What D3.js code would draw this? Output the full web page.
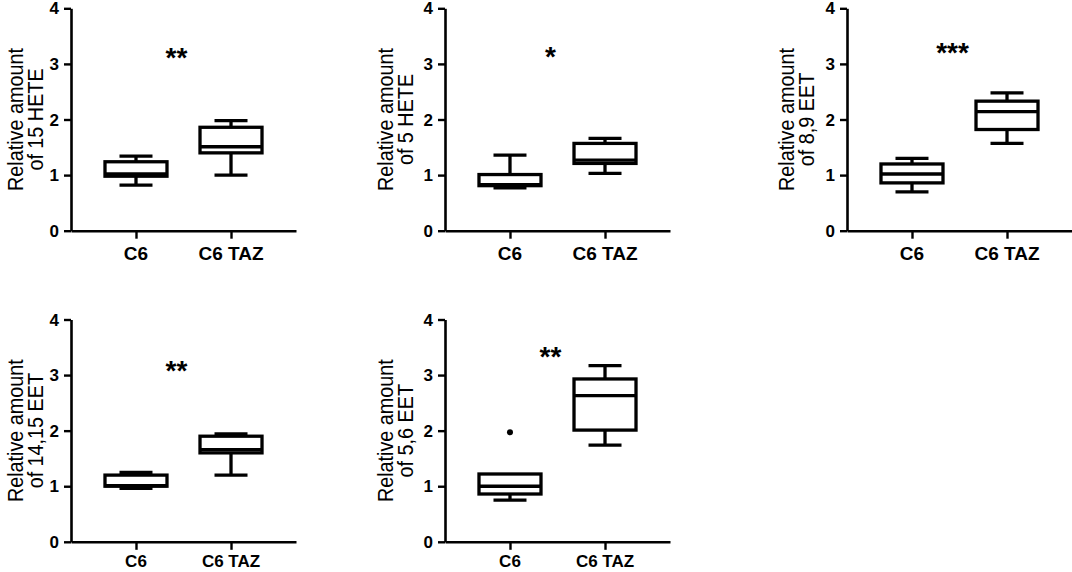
<!DOCTYPE html>
<html>
<head>
<meta charset="utf-8">
<script src="https://cdn.jsdelivr.net/npm/d3@7"></script>
<style>
  html, body { margin: 0; padding: 0; background: #fff; }
  svg { display: block; }
  text { font-family: "Liberation Sans", Arial, sans-serif; fill: #000; }
</style>
</head>
<body>
<svg id="chart" width="1072" height="572"></svg>
<script>
// ---- data ----
const analytes = ["15 HETE", "5 HETE", "8,9 EET", "14,15 EET", "5,6 EET"];
const groups = ["C6", "C6 TAZ"];
const yTicks = [0, 1, 2, 3, 4];
const whiskerLow  = [[0.82, 1.00], [0.77, 1.03], [0.70, 1.57], [0.96, 1.20], [0.75, 1.74]];
const quartile1   = [[0.98, 1.40], [0.81, 1.21], [0.86, 1.82], [1.00, 1.60], [0.86, 2.01]];
const medians     = [[1.02, 1.51], [0.83, 1.27], [1.02, 2.14], [1.01, 1.66], [1.00, 2.63]];
const quartile3   = [[1.24, 1.86], [1.01, 1.57], [1.20, 2.33], [1.20, 1.90], [1.22, 2.93]];
const whiskerHigh = [[1.34, 1.98], [1.36, 1.66], [1.30, 2.48], [1.25, 1.94], [1.22, 3.17]];
const outliers    = [[[], []], [[], []], [[], []], [[], []], [[1.97], []]];
const sigLabels = ["**", "*", "***", "**", "**"];
const sigValue  = [3.24, 3.25, 3.32, 3.21, 3.45];

// ---- layout ----
const colX = [71, 445, 847];
const rowTop = [8.3, 319.5];
const rowBottom = [230.7, 541.8];
const axisLen = 225;
const labelOffset = [-48, -52, -53];
const catFont = [19, 17];
const catBase = [29, 25];
const boxW = 62, capW = 33;

const svg = d3.select("#chart");

analytes.forEach((name, i) => {
  const row = i < 3 ? 0 : 1;
  const col = i % 3;
  const g = svg.append("g").attr("transform", `translate(${colX[col]},0)`);

  const y = d3.scaleLinear().domain([0, 4]).range([rowBottom[row], rowTop[row]]);
  const x = d3.scalePoint().domain(groups).range([0, axisLen]).padding(0.684);

  // y axis
  const ya = g.append("g").call(d3.axisLeft(y).tickValues(yTicks).tickFormat(d3.format("d"))
      .tickSize(7).tickSizeOuter(0).tickPadding(4));
  ya.select(".domain").attr("stroke", "#000").attr("stroke-width", 2.6);
  ya.selectAll(".tick line").attr("stroke", "#000").attr("stroke-width", 2.4);
  ya.selectAll(".tick text").remove();
  g.selectAll("text.ytl").data(yTicks).join("text").attr("class", "ytl")
    .attr("x", -12).attr("y", d => y(d)).attr("dy", "0.36em")
    .attr("text-anchor", "end")
    .style("font-size", "17px").style("font-weight", "bold")
    .text(d => d3.format("d")(d));

  // x axis
  const xa = g.append("g").attr("transform", `translate(0,${rowBottom[row]})`)
    .call(d3.axisBottom(x).tickSize(8).tickSizeOuter(0).tickPadding(5));
  xa.select(".domain").attr("stroke", "#000").attr("stroke-width", 2.6);
  xa.selectAll(".tick line").attr("stroke", "#000").attr("stroke-width", 2.4);
  xa.selectAll(".tick text").remove();
  groups.forEach(gr => {
    g.append("text").attr("x", x(gr)).attr("y", rowBottom[row] + catBase[row])
      .attr("text-anchor", "middle").style("font-size", catFont[row] + "px")
      .style("font-weight", "bold").text(gr);
  });

  // y label
  const cy = (rowTop[row] + rowBottom[row]) / 2;
  const lab = g.append("g").attr("transform", `translate(${labelOffset[col]},${cy}) rotate(-90) scale(0.9,1)`);
  lab.append("text").attr("x", 0).attr("y", 0).attr("text-anchor", "middle")
    .style("font-size", "22px").text("Relative amount");
  lab.append("text").attr("x", 0).attr("y", 20).attr("text-anchor", "middle")
    .style("font-size", "22px").text("of " + name);

  // boxes
  groups.forEach((gr, j) => {
    const cx = x(gr);
    const lo = whiskerLow[i][j], q1 = quartile1[i][j], md = medians[i][j],
          q3 = quartile3[i][j], hi = whiskerHigh[i][j];
    const bg = g.append("g").attr("stroke", "#000").attr("stroke-width", 3.3).attr("fill", "none");
    bg.append("line").attr("x1", cx).attr("x2", cx).attr("y1", y(q3)).attr("y2", y(hi));
    bg.append("line").attr("x1", cx).attr("x2", cx).attr("y1", y(q1)).attr("y2", y(lo));
    if (hi > q3) bg.append("line").attr("x1", cx - capW / 2).attr("x2", cx + capW / 2).attr("y1", y(hi)).attr("y2", y(hi));
    if (lo < q1) bg.append("line").attr("x1", cx - capW / 2).attr("x2", cx + capW / 2).attr("y1", y(lo)).attr("y2", y(lo));
    bg.append("rect").attr("x", cx - boxW / 2).attr("width", boxW)
      .attr("y", y(q3)).attr("height", y(q1) - y(q3)).attr("fill", "#fff");
    bg.append("line").attr("x1", cx - boxW / 2).attr("x2", cx + boxW / 2).attr("y1", y(md)).attr("y2", y(md));
    outliers[i][j].forEach(v => {
      g.append("circle").attr("cx", cx).attr("cy", y(v)).attr("r", 3).attr("fill", "#000");
    });
  });

  // significance
  const fs = 28;
  g.append("text").attr("x", (x(groups[0]) + x(groups[1])) / 2 - 7)
    .attr("y", y(sigValue[i]) + fs * 0.58).attr("text-anchor", "middle")
    .style("font-size", fs + "px").style("font-weight", "bold").text(sigLabels[i]);
});
</script>
</body>
</html>
